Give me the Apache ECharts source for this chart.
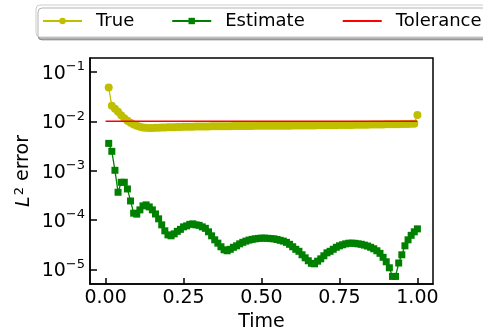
<!DOCTYPE html>
<html>
<head>
<meta charset="utf-8">
<script src="https://cdn.jsdelivr.net/npm/echarts@6/dist/echarts.min.js"></script>
<style>
  html, body { margin: 0; padding: 0; background: #fff; }
  #chart { width: 483px; height: 329px; }
</style>
</head>
<body>
<div id="chart"></div>
<script>
// time samples
const times = [
  0.01, 0.02, 0.03, 0.04, 0.05, 0.06, 0.07, 0.08, 0.09, 0.10,
  0.11, 0.12, 0.13, 0.14, 0.15, 0.16, 0.17, 0.18, 0.19, 0.20,
  0.21, 0.22, 0.23, 0.24, 0.25, 0.26, 0.27, 0.28, 0.29, 0.30,
  0.31, 0.32, 0.33, 0.34, 0.35, 0.36, 0.37, 0.38, 0.39, 0.40,
  0.41, 0.42, 0.43, 0.44, 0.45, 0.46, 0.47, 0.48, 0.49, 0.50,
  0.51, 0.52, 0.53, 0.54, 0.55, 0.56, 0.57, 0.58, 0.59, 0.60,
  0.61, 0.62, 0.63, 0.64, 0.65, 0.66, 0.67, 0.68, 0.69, 0.70,
  0.71, 0.72, 0.73, 0.74, 0.75, 0.76, 0.77, 0.78, 0.79, 0.80,
  0.81, 0.82, 0.83, 0.84, 0.85, 0.86, 0.87, 0.88, 0.89, 0.90,
  0.91, 0.92, 0.93, 0.94, 0.95, 0.96, 0.97, 0.98, 0.99, 1.00
];

const trueErr = [
  4.84e-2, 2.06e-2, 1.81e-2, 1.57e-2, 1.33e-2, 1.16e-2, 1.03e-2, 9.40e-3, 8.66e-3, 8.11e-3,
  7.74e-3, 7.53e-3, 7.39e-3, 7.36e-3, 7.36e-3, 7.39e-3, 7.46e-3, 7.49e-3, 7.53e-3, 7.56e-3,
  7.60e-3, 7.63e-3, 7.67e-3, 7.70e-3, 7.74e-3, 7.76e-3, 7.78e-3, 7.80e-3, 7.82e-3, 7.84e-3,
  7.86e-3, 7.88e-3, 7.89e-3, 7.91e-3, 7.93e-3, 7.94e-3, 7.96e-3, 7.97e-3, 7.99e-3, 8.00e-3,
  8.01e-3, 8.03e-3, 8.04e-3, 8.05e-3, 8.06e-3, 8.08e-3, 8.09e-3, 8.10e-3, 8.11e-3, 8.12e-3,
  8.13e-3, 8.14e-3, 8.15e-3, 8.16e-3, 8.16e-3, 8.17e-3, 8.18e-3, 8.19e-3, 8.19e-3, 8.20e-3,
  8.21e-3, 8.22e-3, 8.23e-3, 8.24e-3, 8.25e-3, 8.26e-3, 8.28e-3, 8.29e-3, 8.30e-3, 8.32e-3,
  8.33e-3, 8.35e-3, 8.36e-3, 8.38e-3, 8.40e-3, 8.41e-3, 8.43e-3, 8.45e-3, 8.47e-3, 8.49e-3,
  8.51e-3, 8.53e-3, 8.55e-3, 8.57e-3, 8.59e-3, 8.61e-3, 8.63e-3, 8.65e-3, 8.67e-3, 8.69e-3,
  8.71e-3, 8.73e-3, 8.75e-3, 8.78e-3, 8.80e-3, 8.83e-3, 8.86e-3, 8.90e-3, 8.95e-3, 1.35e-2
];

const estimateErr = [
  3.58e-3, 2.47e-3, 1.02e-3, 3.66e-4, 5.83e-4, 5.83e-4, 4.27e-4, 2.44e-4, 1.38e-4, 1.32e-4,
  1.61e-4, 1.94e-4, 2.03e-4, 1.85e-4, 1.61e-4, 1.33e-4, 1.06e-4, 8.00e-5, 6.05e-5, 5.02e-5,
  4.80e-5, 5.26e-5, 5.91e-5, 6.49e-5, 7.29e-5, 7.64e-5, 8.19e-5, 8.38e-5, 8.00e-5, 7.82e-5,
  7.29e-5, 6.80e-5, 5.78e-5, 4.80e-5, 3.98e-5, 3.41e-5, 2.88e-5, 2.50e-5, 2.39e-5, 2.56e-5,
  2.81e-5, 3.01e-5, 3.30e-5, 3.54e-5, 3.75e-5, 3.93e-5, 4.07e-5, 4.17e-5, 4.25e-5, 4.31e-5,
  4.31e-5, 4.27e-5, 4.21e-5, 4.17e-5, 4.04e-5, 3.89e-5, 3.75e-5, 3.54e-5, 3.23e-5, 2.88e-5,
  2.56e-5, 2.33e-5, 1.98e-5, 1.72e-5, 1.50e-5, 1.33e-5, 1.30e-5, 1.47e-5, 1.64e-5, 1.89e-5,
  2.17e-5, 2.33e-5, 2.56e-5, 2.81e-5, 3.01e-5, 3.16e-5, 3.30e-5, 3.40e-5, 3.41e-5, 3.38e-5,
  3.30e-5, 3.23e-5, 3.11e-5, 2.98e-5, 2.81e-5, 2.62e-5, 2.39e-5, 2.12e-5, 1.76e-5, 1.43e-5,
  1.08e-5, 7.22e-6, 7.22e-6, 1.35e-5, 1.98e-5, 3.01e-5, 3.98e-5, 4.91e-5, 5.78e-5, 6.64e-5
];

const toleranceTimes = [0.0, 1.0];
const toleranceVals = [1e-2, 1e-2];

const xTicks = [0, 0.25, 0.5, 0.75, 1.0];
const yTicks = [1e-5, 1e-4, 1e-3, 1e-2, 1e-1];

const FONT = 'DejaVu Sans';

const chart = echarts.init(document.getElementById('chart'), null, { renderer: 'canvas' });

const pair = (xs, ys) => xs.map((x, i) => [x, ys[i]]);

const option = {
  animation: false,
  textStyle: { fontFamily: FONT },
  legend: {
    left: 36,
    top: 5,
    width: 700,
    padding: [7, 6, 7, 6],
    itemWidth: 39,
    itemHeight: 8,
    itemGap: 37,
    backgroundColor: '#fff',
    borderColor: '#cccccc',
    borderWidth: 1,
    borderRadius: 4,
    shadowColor: 'rgba(0,0,0,0.3)',
    shadowOffsetX: 2,
    shadowOffsetY: 3,
    textStyle: { fontFamily: FONT, fontSize: 18, color: '#000', padding: [0, 0, 0, 9] },
    data: [
      'True',
      'Estimate',
      { name: 'Tolerance', itemStyle: { opacity: 0 } }
    ]
  },
  grid: {
    left: 90,
    right: 50,
    top: 58,
    bottom: 45,
    outerBoundsMode: 'none',
    show: true,
    borderColor: '#000',
    borderWidth: 1.5,
    backgroundColor: 'transparent'
  },
  xAxis: {
    type: 'value',
    min: -0.05,
    max: 1.05,
    name: 'Time',
    nameLocation: 'middle',
    nameGap: 29,
    nameMoveOverlap: false,
    nameTextStyle: { fontFamily: FONT, fontSize: 19, color: '#000' },
    axisLine: { onZero: false, lineStyle: { color: '#000', width: 1.5 } },
    axisTick: { inside: true, length: 6, customValues: xTicks, lineStyle: { color: '#000', width: 1.5 } },
    axisLabel: {
      customValues: xTicks,
      margin: 5,
      fontFamily: FONT,
      fontSize: 19,
      color: '#000',
      formatter: v => v.toFixed(2)
    },
    splitLine: { show: false }
  },
  yAxis: {
    type: 'log',
    logBase: 10,
    min: 5.07e-6,
    max: 0.192,
    name: '{i|L}{s|2} error',
    nameLocation: 'middle',
    nameGap: 56,
    nameMoveOverlap: false,
    nameTextStyle: {
      fontFamily: FONT,
      fontSize: 19,
      color: '#000',
      rich: {
        i: { fontFamily: FONT, fontSize: 19, fontStyle: 'italic', color: '#000', verticalAlign: 'bottom' },
        s: { fontFamily: FONT, fontSize: 13, color: '#000', verticalAlign: 'top', padding: [0, 0, 8, 1] }
      }
    },
    axisLine: { onZero: false, lineStyle: { color: '#000', width: 1.5 } },
    axisTick: { inside: true, length: 7, customValues: yTicks, lineStyle: { color: '#000', width: 1.5 } },
    axisLabel: {
      customValues: yTicks,
      margin: 5,
      color: '#000',
      formatter: v => {
        const e = Math.round(Math.log10(v));
        return '{b|10}{s|\u2212' + Math.abs(e) + '}';
      },
      rich: {
        b: { fontFamily: FONT, fontSize: 19, color: '#000', verticalAlign: 'bottom', padding: [4, 0, 0, 0] },
        s: { fontFamily: FONT, fontSize: 13, color: '#000', verticalAlign: 'top', padding: [0, 0, 10, 0] }
      }
    },
    splitLine: { show: false },
    minorTick: { show: false }
  },
  series: [
    {
      name: 'True',
      type: 'line',
      data: pair(times, trueErr),
      symbol: 'circle',
      symbolSize: 8,
      showAllSymbol: true,
      color: '#bfbf00',
      lineStyle: { width: 1.3, color: '#bfbf00' },
      itemStyle: { color: '#bfbf00' },
      z: 2
    },
    {
      name: 'Estimate',
      type: 'line',
      data: pair(times, estimateErr),
      symbol: 'rect',
      symbolSize: 7,
      showAllSymbol: true,
      color: '#008000',
      lineStyle: { width: 1.3, color: '#008000' },
      itemStyle: { color: '#008000' },
      z: 3
    },
    {
      name: 'Tolerance',
      type: 'line',
      data: pair(toleranceTimes, toleranceVals),
      symbol: 'none',
      color: '#ff0000',
      lineStyle: { width: 1.5, color: '#ff0000' },
      z: 4
    }
  ]
};

chart.setOption(option);
</script>
</body>
</html>
